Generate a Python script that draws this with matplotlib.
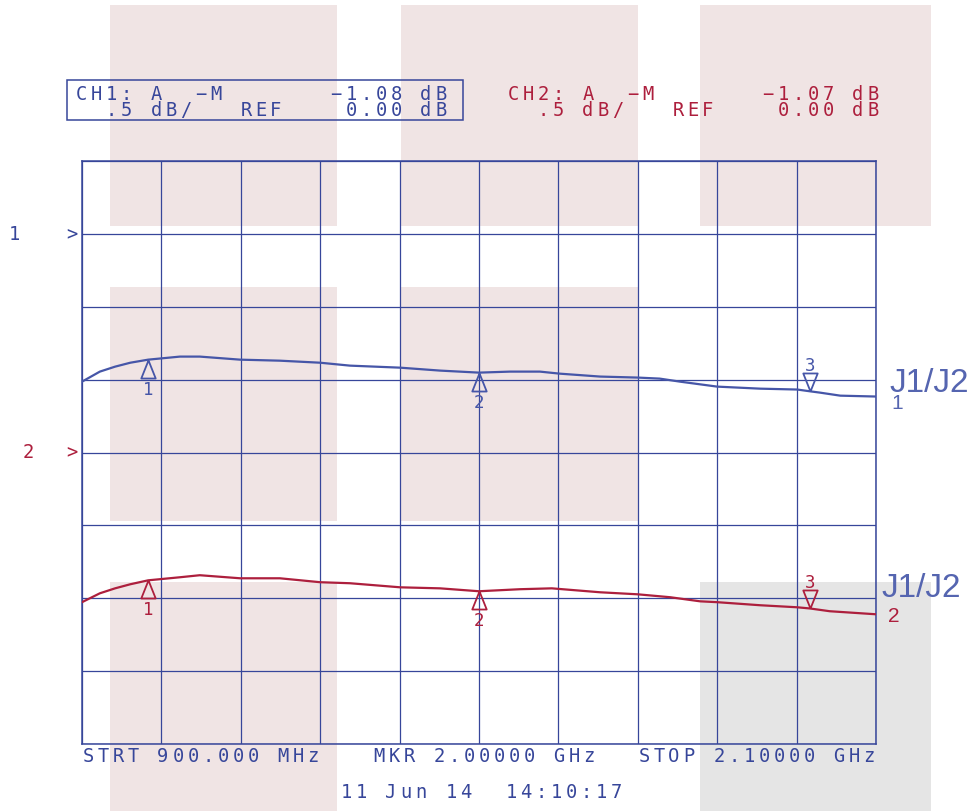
import matplotlib.pyplot as plt
import numpy as np
from matplotlib.patches import Rectangle
from matplotlib import transforms

W, H = 979, 812

# trace readings (GHz, dB)
freq1 = [0.900, 0.927, 0.950, 0.973, 1.000, 1.048, 1.078, 1.139, 1.199, 1.260,
         1.305, 1.381, 1.441, 1.500, 1.547, 1.592, 1.622, 1.683, 1.740, 1.773,
         1.804, 1.860, 1.925, 1.981, 2.000, 2.015, 2.046, 2.100]
ch1_db = [-1.014, -0.945, -0.911, -0.884, -0.863, -0.842, -0.842, -0.863, -0.870, -0.884,
          -0.904, -0.918, -0.938, -0.952, -0.945, -0.945, -0.959, -0.979, -0.986, -0.993,
          -1.014, -1.048, -1.062, -1.068, -1.080, -1.089, -1.110, -1.116]

freq2 = [0.900, 0.927, 0.950, 0.973, 1.000, 1.048, 1.078, 1.139, 1.199, 1.260,
         1.305, 1.381, 1.441, 1.500, 1.562, 1.610, 1.683, 1.740, 1.789, 1.834,
         1.860, 1.925, 1.981, 2.000, 2.030, 2.100]
ch2_db = [-1.027, -0.966, -0.932, -0.904, -0.877, -0.856, -0.842, -0.863, -0.863, -0.890,
          -0.897, -0.925, -0.932, -0.952, -0.938, -0.932, -0.959, -0.973, -0.993, -1.021,
          -1.027, -1.048, -1.062, -1.070, -1.089, -1.110]

mkr_freq = [1.0, 1.5, 2.0]
mkr_ch1 = [-0.863, -0.952, -1.080]
mkr_ch2 = [-0.877, -0.952, -1.070]

ch2_offset = -1.5   # ch2 reference sits 3 divisions below ch1

BLUE = '#37469a'
TRACE_BLUE = '#4656a8'
RED = '#ad1f3d'
LABEL_BLUE = '#5565b0'
PINK = '#f0e4e4'
GREY = '#e5e5e5'
MONO = 'DejaVu Sans Mono'


def fx(x):
    return x / W


def fy(y):
    return 1 - y / H


fig = plt.figure(figsize=(W / 100, H / 100), dpi=100)

# scanner background blocks
blocks = [(110, 6, 337, 227, PINK), (401, 6, 638, 227, PINK), (700, 6, 931, 227, PINK),
          (110, 288, 337, 522, PINK), (401, 288, 638, 522, PINK),
          (110, 583, 337, 812, PINK), (700, 583, 931, 812, GREY)]
for x0, y0, x1, y1, c in blocks:
    r = Rectangle((fx(x0), fy(y1)), fx(x1 - x0), (y1 - y0) / H,
                  transform=fig.transFigure, facecolor=c, edgecolor='none', zorder=-5)
    fig.add_artist(r)

ax = fig.add_axes([fx(82), fy(745), fx(794), 583 / H])
ax.set_facecolor('none')
ax.set_xlim(0.9, 2.1)
ax.set_ylim(-3.5, 0.5)
ax.set_xticks(np.linspace(0.9, 2.1, 11))
ax.set_yticks(np.arange(-3.5, 0.51, 0.5))
ax.grid(True, color=BLUE, lw=0.9)
ax.tick_params(length=0, labelbottom=False, labelleft=False)
for sp in ax.spines.values():
    sp.set_color(BLUE)
    sp.set_linewidth(1.1)

ax.plot(freq1, ch1_db, color=TRACE_BLUE, lw=1.6, zorder=3)
ax.plot(freq2, np.array(ch2_db) + ch2_offset, color=RED, lw=1.6, zorder=3)

# markers
tri_up = [(0, 1), (-0.8, -1), (0.8, -1), (0, 1)]
tri_dn = [(0, -1), (-0.8, 1), (0.8, 1), (0, -1)]
below = transforms.offset_copy(ax.transData, fig=fig, y=-9, units='dots')
above = transforms.offset_copy(ax.transData, fig=fig, y=9, units='dots')
for vals, off, c in [(mkr_ch1, 0, TRACE_BLUE), (mkr_ch2, ch2_offset, RED)]:
    for i, (f, v) in enumerate(zip(mkr_freq, vals)):
        if i < 2:
            ax.plot(f, v + off, marker=tri_up, ms=13, mfc='none', mec=c, mew=1.3,
                    transform=below, zorder=4)
            ax.annotate(str(i + 1), (f, v + off), xytext=(0, -34), textcoords='offset pixels',
                        ha='center', va='baseline', color=c, fontsize=12.5, family=MONO)
        else:
            ax.plot(f, v + off, marker=tri_dn, ms=13, mfc='none', mec=c, mew=1.3,
                    transform=above, zorder=4)
            ax.annotate(str(i + 1), (f, v + off), xytext=(0, 21), textcoords='offset pixels',
                        ha='center', va='baseline', color=c, fontsize=12.5, family=MONO)


def plotter_text(x, y, s, color, pitch=15, size=13.5):
    for i, ch in enumerate(s):
        if ch != ' ':
            fig.text(fx(x + i * pitch + 6), fy(y), ch, color=color, fontsize=size,
                     family=MONO, ha='center', va='baseline')


# channel headers
plotter_text(75, 100, 'CH1: A  \u2212M       \u22121.08 dB', BLUE)
plotter_text(75, 116, '  .5 dB/   REF    0.00 dB', BLUE)
plotter_text(507, 100, 'CH2: A  \u2212M       \u22121.07 dB', RED)
plotter_text(507, 116, '  .5 dB/   REF    0.00 dB', RED)
fig.add_artist(Rectangle((fx(67), fy(121)), fx(463 - 67), 40 / H, transform=fig.transFigure,
                         facecolor='none', edgecolor=BLUE, lw=1.1))

# footer
plotter_text(82, 762, 'STRT 900.000 MHz', BLUE)
plotter_text(373, 762, 'MKR 2.00000 GHz', BLUE)
plotter_text(638, 762, 'STOP 2.10000 GHz', BLUE)
plotter_text(340, 798, '11 Jun 14  14:10:17', BLUE)

# reference position indicators
plotter_text(8, 240, '1', BLUE)
plotter_text(66, 240, '>', BLUE)
plotter_text(22, 458, '2', RED)
plotter_text(66, 458, '>', RED)

# trace labels
fig.text(fx(889), fy(392), 'J1/J2', color=LABEL_BLUE, fontsize=24, family='Liberation Sans')
fig.text(fx(891), fy(409), '1', color=LABEL_BLUE, fontsize=15, family='Liberation Sans')
fig.text(fx(881), fy(597), 'J1/J2', color=LABEL_BLUE, fontsize=24, family='Liberation Sans')
fig.text(fx(888), fy(622), '2', color=RED, fontsize=15, family='Liberation Sans')

fig.savefig('out.png', dpi=100)
